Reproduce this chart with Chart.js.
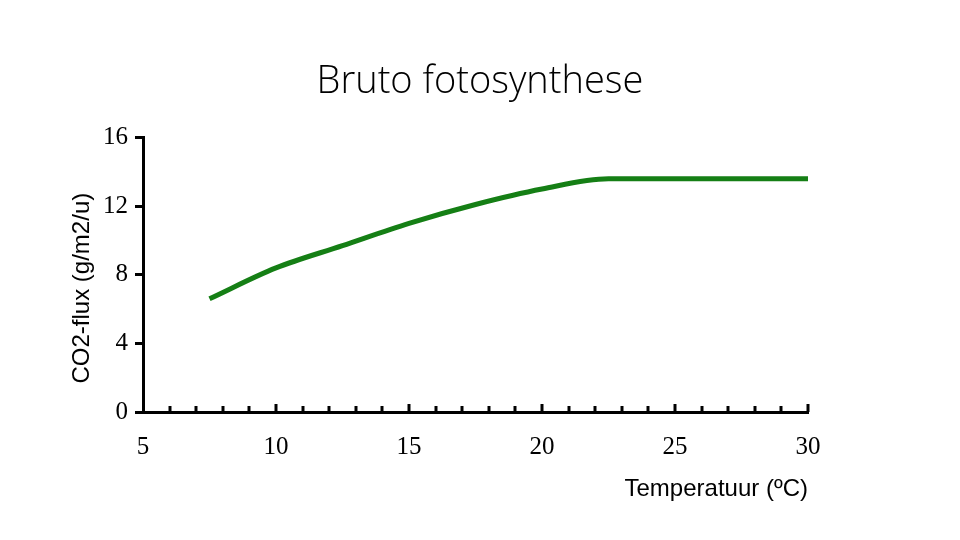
<!DOCTYPE html>
<html>
<head>
<meta charset="utf-8">
<script src="https://cdn.jsdelivr.net/npm/chart.js@4/dist/chart.umd.min.js"></script>
<style>
  html, body { margin: 0; padding: 0; background: #fff; }
  #wrap { width: 960px; height: 540px; }
</style>
</head>
<body>
<div id="wrap"><canvas id="chart" width="960" height="540"></canvas></div>
<script>
// temperatuur (ºC) en bruto CO2-flux (g/m2/u)
const temperaturen = [7.5, 10, 12.5, 15, 17.5, 20, 22.5, 25, 27.5, 30];
const co2Flux = [6.6, 8.4, 9.7, 11.0, 12.1, 13.0, 13.6, 13.6, 13.6, 13.6];
const xTicks = [5, 10, 15, 20, 25, 30];
const yTicks = [0, 4, 8, 12, 16];

// kleine streepjes naar binnen op de x-as, elke graad
const innerTicks = {
    id: 'innerTicks',
    afterDraw(chart) {
        const ctx = chart.ctx;
        const x = chart.scales.x;
        const bottom = chart.chartArea.bottom;
        ctx.save();
        ctx.strokeStyle = '#000';
        ctx.lineWidth = 3;
        for (let t = x.min + 1; t <= x.max; t++) {
            const px = Math.round(x.getPixelForValue(t));
            const len = (t % 5 === 0) ? 8 : 6;
            ctx.beginPath();
            ctx.moveTo(px, bottom);
            ctx.lineTo(px, bottom - len);
            ctx.stroke();
        }
        ctx.restore();
    }
};

new Chart(document.getElementById('chart'), {
    type: 'line',
    data: {
        datasets: [{
            data: temperaturen.map((t, i) => ({ x: t, y: co2Flux[i] })),
            borderColor: '#157f15',
            borderWidth: 5,
            pointRadius: 0,
            cubicInterpolationMode: 'monotone',
            fill: false
        }]
    },
    options: {
        responsive: false,
        animation: false,
        layout: { padding: { left: 0, right: 0, top: 0, bottom: 22 } },
        plugins: {
            legend: { display: false },
            tooltip: { enabled: false },
            title: {
                display: true,
                text: 'Bruto fotosynthese',
                color: '#000',
                font: { family: 'Open Sans', size: 38, weight: '300' },
                padding: { top: 59, bottom: 33 }
            }
        },
        scales: {
            x: {
                type: 'linear',
                min: 5,
                max: 30,
                afterBuildTicks: s => { s.ticks = xTicks.map(v => ({ value: v })); },
                afterFit: s => { s.height = 106; },
                grid: { display: false, drawTicks: false },
                border: { color: '#000', width: 3 },
                ticks: {
                    color: '#000',
                    padding: 20,
                    font: { family: 'Liberation Serif', size: 25 }
                },
                title: {
                    display: true,
                    text: 'Temperatuur (ºC)',
                    align: 'end',
                    color: '#000',
                    font: { family: 'Liberation Sans', size: 24 },
                    padding: { top: 8, bottom: 14 }
                }
            },
            y: {
                min: 0,
                max: 16,
                afterBuildTicks: s => { s.ticks = yTicks.map(v => ({ value: v })); },
                afterFit: s => { s.width = 143; },
                grid: {
                    drawOnChartArea: false,
                    drawTicks: true,
                    tickLength: 8,
                    color: '#000',
                    lineWidth: 3
                },
                border: { color: '#000', width: 3 },
                ticks: {
                    color: '#000',
                    padding: 7,
                    font: { family: 'Liberation Serif', size: 25 }
                },
                title: {
                    display: true,
                    text: 'CO2-flux (g/m2/u)    ',
                    color: '#000',
                    font: { family: 'Liberation Sans', size: 24 },
                    padding: { top: 68, bottom: 4 }
                }
            },
            // lege as rechts, houdt de ruimte naast het plotgebied vrij
            rechts: {
                position: 'right',
                display: true,
                afterFit: s => { s.width = 152; },
                grid: { display: false, drawTicks: false },
                border: { display: false },
                ticks: { display: false }
            }
        }
    },
    plugins: [innerTicks]
});
</script>
</body>
</html>
